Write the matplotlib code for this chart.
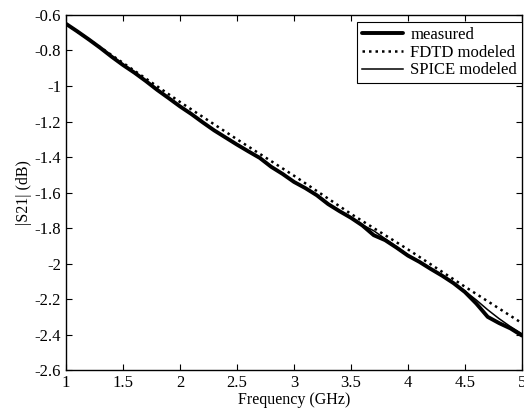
import numpy as np
import matplotlib
matplotlib.use("Agg")
import matplotlib.pyplot as plt

freq = [1.0, 1.1, 1.2, 1.3, 1.4, 1.5, 1.6, 1.7, 1.8, 1.9,
        2.0, 2.1, 2.2, 2.3, 2.4, 2.5, 2.6, 2.7, 2.8, 2.9,
        3.0, 3.1, 3.2, 3.3, 3.4, 3.5, 3.6, 3.7, 3.8, 3.9,
        4.0, 4.1, 4.2, 4.3, 4.4, 4.5, 4.6, 4.7, 4.8, 4.9, 5.0]

measured = [-0.650, -0.693, -0.738, -0.785, -0.835, -0.882, -0.925, -0.972, -1.022, -1.068,
            -1.115, -1.158, -1.205, -1.250, -1.290, -1.330, -1.368, -1.405, -1.455, -1.495,
            -1.540, -1.575, -1.615, -1.665, -1.705, -1.742, -1.785, -1.840, -1.868, -1.910,
            -1.955, -1.990, -2.030, -2.068, -2.110, -2.160, -2.225, -2.300, -2.335, -2.365, -2.405]

spice = [-0.650, -0.692, -0.737, -0.784, -0.833, -0.880, -0.925, -0.971, -1.020, -1.066,
         -1.113, -1.157, -1.203, -1.248, -1.290, -1.330, -1.368, -1.407, -1.452, -1.494,
         -1.538, -1.576, -1.616, -1.662, -1.703, -1.742, -1.782, -1.815, -1.860, -1.905,
         -1.950, -1.988, -2.028, -2.066, -2.108, -2.155, -2.205, -2.260, -2.310, -2.355, -2.395]

fdtd_freq = [1.0, 1.5, 2.0, 2.5, 3.0, 3.5, 4.0, 4.5, 5.0]
fdtd = [-0.650, -0.870, -1.090, -1.300, -1.505, -1.720, -1.920, -2.130, -2.335]

xticks = [1, 1.5, 2, 2.5, 3, 3.5, 4, 4.5, 5]
xtick_labels = ["1", "1.5", "2", "2.5", "3", "3.5", "4", "4.5", "5"]
yticks = [-0.6, -0.8, -1.0, -1.2, -1.4, -1.6, -1.8, -2.0, -2.2, -2.4, -2.6]
ytick_labels = ["-0.6", "-0.8", "-1", "-1.2", "-1.4", "-1.6", "-1.8", "-2", "-2.2", "-2.4", "-2.6"]

plt.rcParams['font.family'] = ['Liberation Serif', 'DejaVu Serif']
plt.rcParams['axes.unicode_minus'] = False

fig = plt.figure(figsize=(5.24, 4.15), dpi=100)
ax = fig.add_axes([0.126, 0.108, 0.87, 0.856])

ax.plot(freq, measured, color='black', lw=2.8, label='measured', solid_capstyle='round')
ax.plot(fdtd_freq, fdtd, color='black', lw=1.8, ls=(0, (1, 1.6)), label='FDTD modeled')
ax.plot(freq, spice, color='black', lw=1.1, label='SPICE modeled')

ax.set_xlim(1, 5)
ax.set_ylim(-2.6, -0.6)
ax.set_xticks(xticks)
ax.set_xticklabels(xtick_labels)
ax.set_yticks(yticks)
ax.set_yticklabels(ytick_labels)
ax.tick_params(direction='in', top=True, right=True, labelsize=12, length=4, width=0.8)
for s in ax.spines.values():
    s.set_linewidth(1.0)

ax.set_xlabel('Frequency (GHz)', fontsize=11.5, labelpad=1)
ax.set_ylabel('|S21| (dB)', fontsize=11.5, labelpad=2)

leg = ax.legend(loc='upper right', bbox_to_anchor=(1.0, 0.98), fontsize=12, frameon=True,
                fancybox=False, edgecolor='black', framealpha=1, borderaxespad=0.0,
                handlelength=2.5, handletextpad=0.4, labelspacing=0.1, borderpad=0.3)
leg.get_frame().set_linewidth(0.8)

fig.savefig('out.png', dpi=100)
